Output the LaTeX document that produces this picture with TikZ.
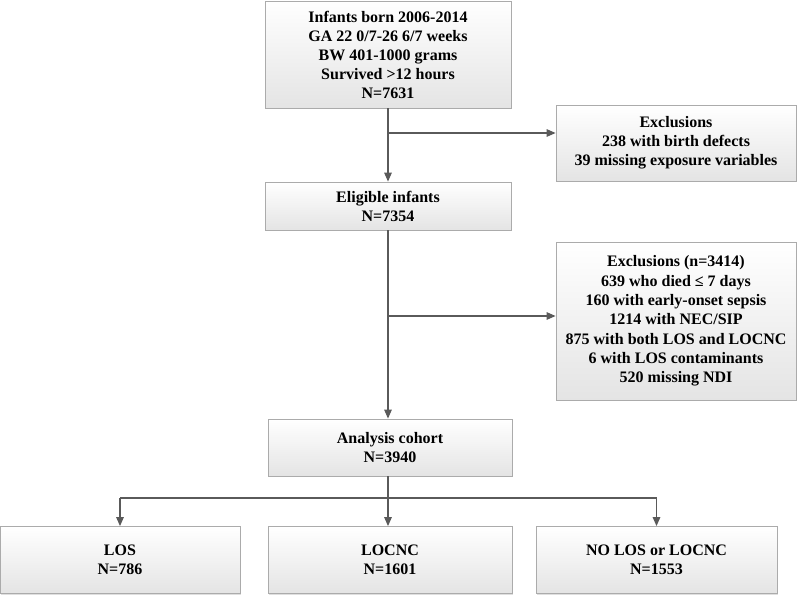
\documentclass[tikz,border=0pt]{standalone}
\usepackage{fontspec}
\setmainfont{Liberation Serif}
\usetikzlibrary{arrows.meta,shadows}
\definecolor{linec}{HTML}{5A5A5A}
\definecolor{borderc}{HTML}{ABABAB}
\definecolor{fillb}{HTML}{E4E4E4}
\begin{document}
\begin{tikzpicture}[x=1pt,y=-1pt,
  box/.style={draw=borderc, line width=0.8pt, top color=white, bottom color=fillb,
    drop shadow={shadow xshift=1.2pt, shadow yshift=-1.2pt, opacity=0.25},
    align=center, inner sep=0pt,
    font=\fontsize{16}{19}\selectfont\bfseries},
  conn/.style={draw=linec, line width=1.3pt},
  arr/.style={conn, -{Triangle[length=9pt,width=7.5pt]}}
]
\useasboundingbox (0,0) rectangle (800,595);
\node[box, minimum width=246pt, minimum height=107pt] (top) at (388,54.5)
  {Infants born 2006-2014\\GA 22 0/7-26 6/7 weeks\\BW 401-1000 grams\\Survived >12 hours\\N=7631};
\node[box, minimum width=240pt, minimum height=76pt] (ex1) at (676,143)
  {Exclusions\\238 with birth defects\\39 missing exposure variables};
\node[box, minimum width=246pt, minimum height=48pt] (elig) at (388,206)
  {Eligible infants\\N=7354};
\node[box, minimum width=240pt, minimum height=158pt, font=\fontsize{16}{19.3}\selectfont\bfseries] (ex2) at (676,321)
  {Exclusions (n=3414)\\639 who died ≤ 7 days\\160 with early-onset sepsis\\1214 with NEC/SIP\\875 with both LOS and LOCNC\\6 with LOS contaminants\\520 missing NDI};
\node[box, minimum width=244pt, minimum height=57pt] (coh) at (390,447.5)
  {Analysis cohort\\N=3940};
\node[box, minimum width=240pt, minimum height=67pt] (los) at (120,560)
  {LOS\\N=786};
\node[box, minimum width=244pt, minimum height=67pt] (locnc) at (390,560)
  {LOCNC\\N=1601};
\node[box, minimum width=241pt, minimum height=67pt] (nolos) at (656.5,560)
  {NO LOS or LOCNC\\N=1553};

\coordinate (b1) at (388,133);
\coordinate (b2) at (388,316);
\coordinate (hb) at (388,498);
\draw[arr] (top.south -| b1) -- (elig.north -| b1);
\draw[arr] (b1) -- (b1 -| ex1.west);
\draw[arr] (elig.south -| b2) -- (coh.north -| b2);
\draw[arr] (b2) -- (b2 -| ex2.west);
\draw[conn] (coh.south -| hb) -- (hb);
\draw[arr] (hb) -- (locnc.north -| hb);
\draw[arr] (hb -| los.north) -- (los.north);
\draw[arr] (hb -| nolos.north) -- (nolos.north);
\draw[conn] (hb -| los.north) -- (hb -| nolos.north);
\end{tikzpicture}
\end{document}
